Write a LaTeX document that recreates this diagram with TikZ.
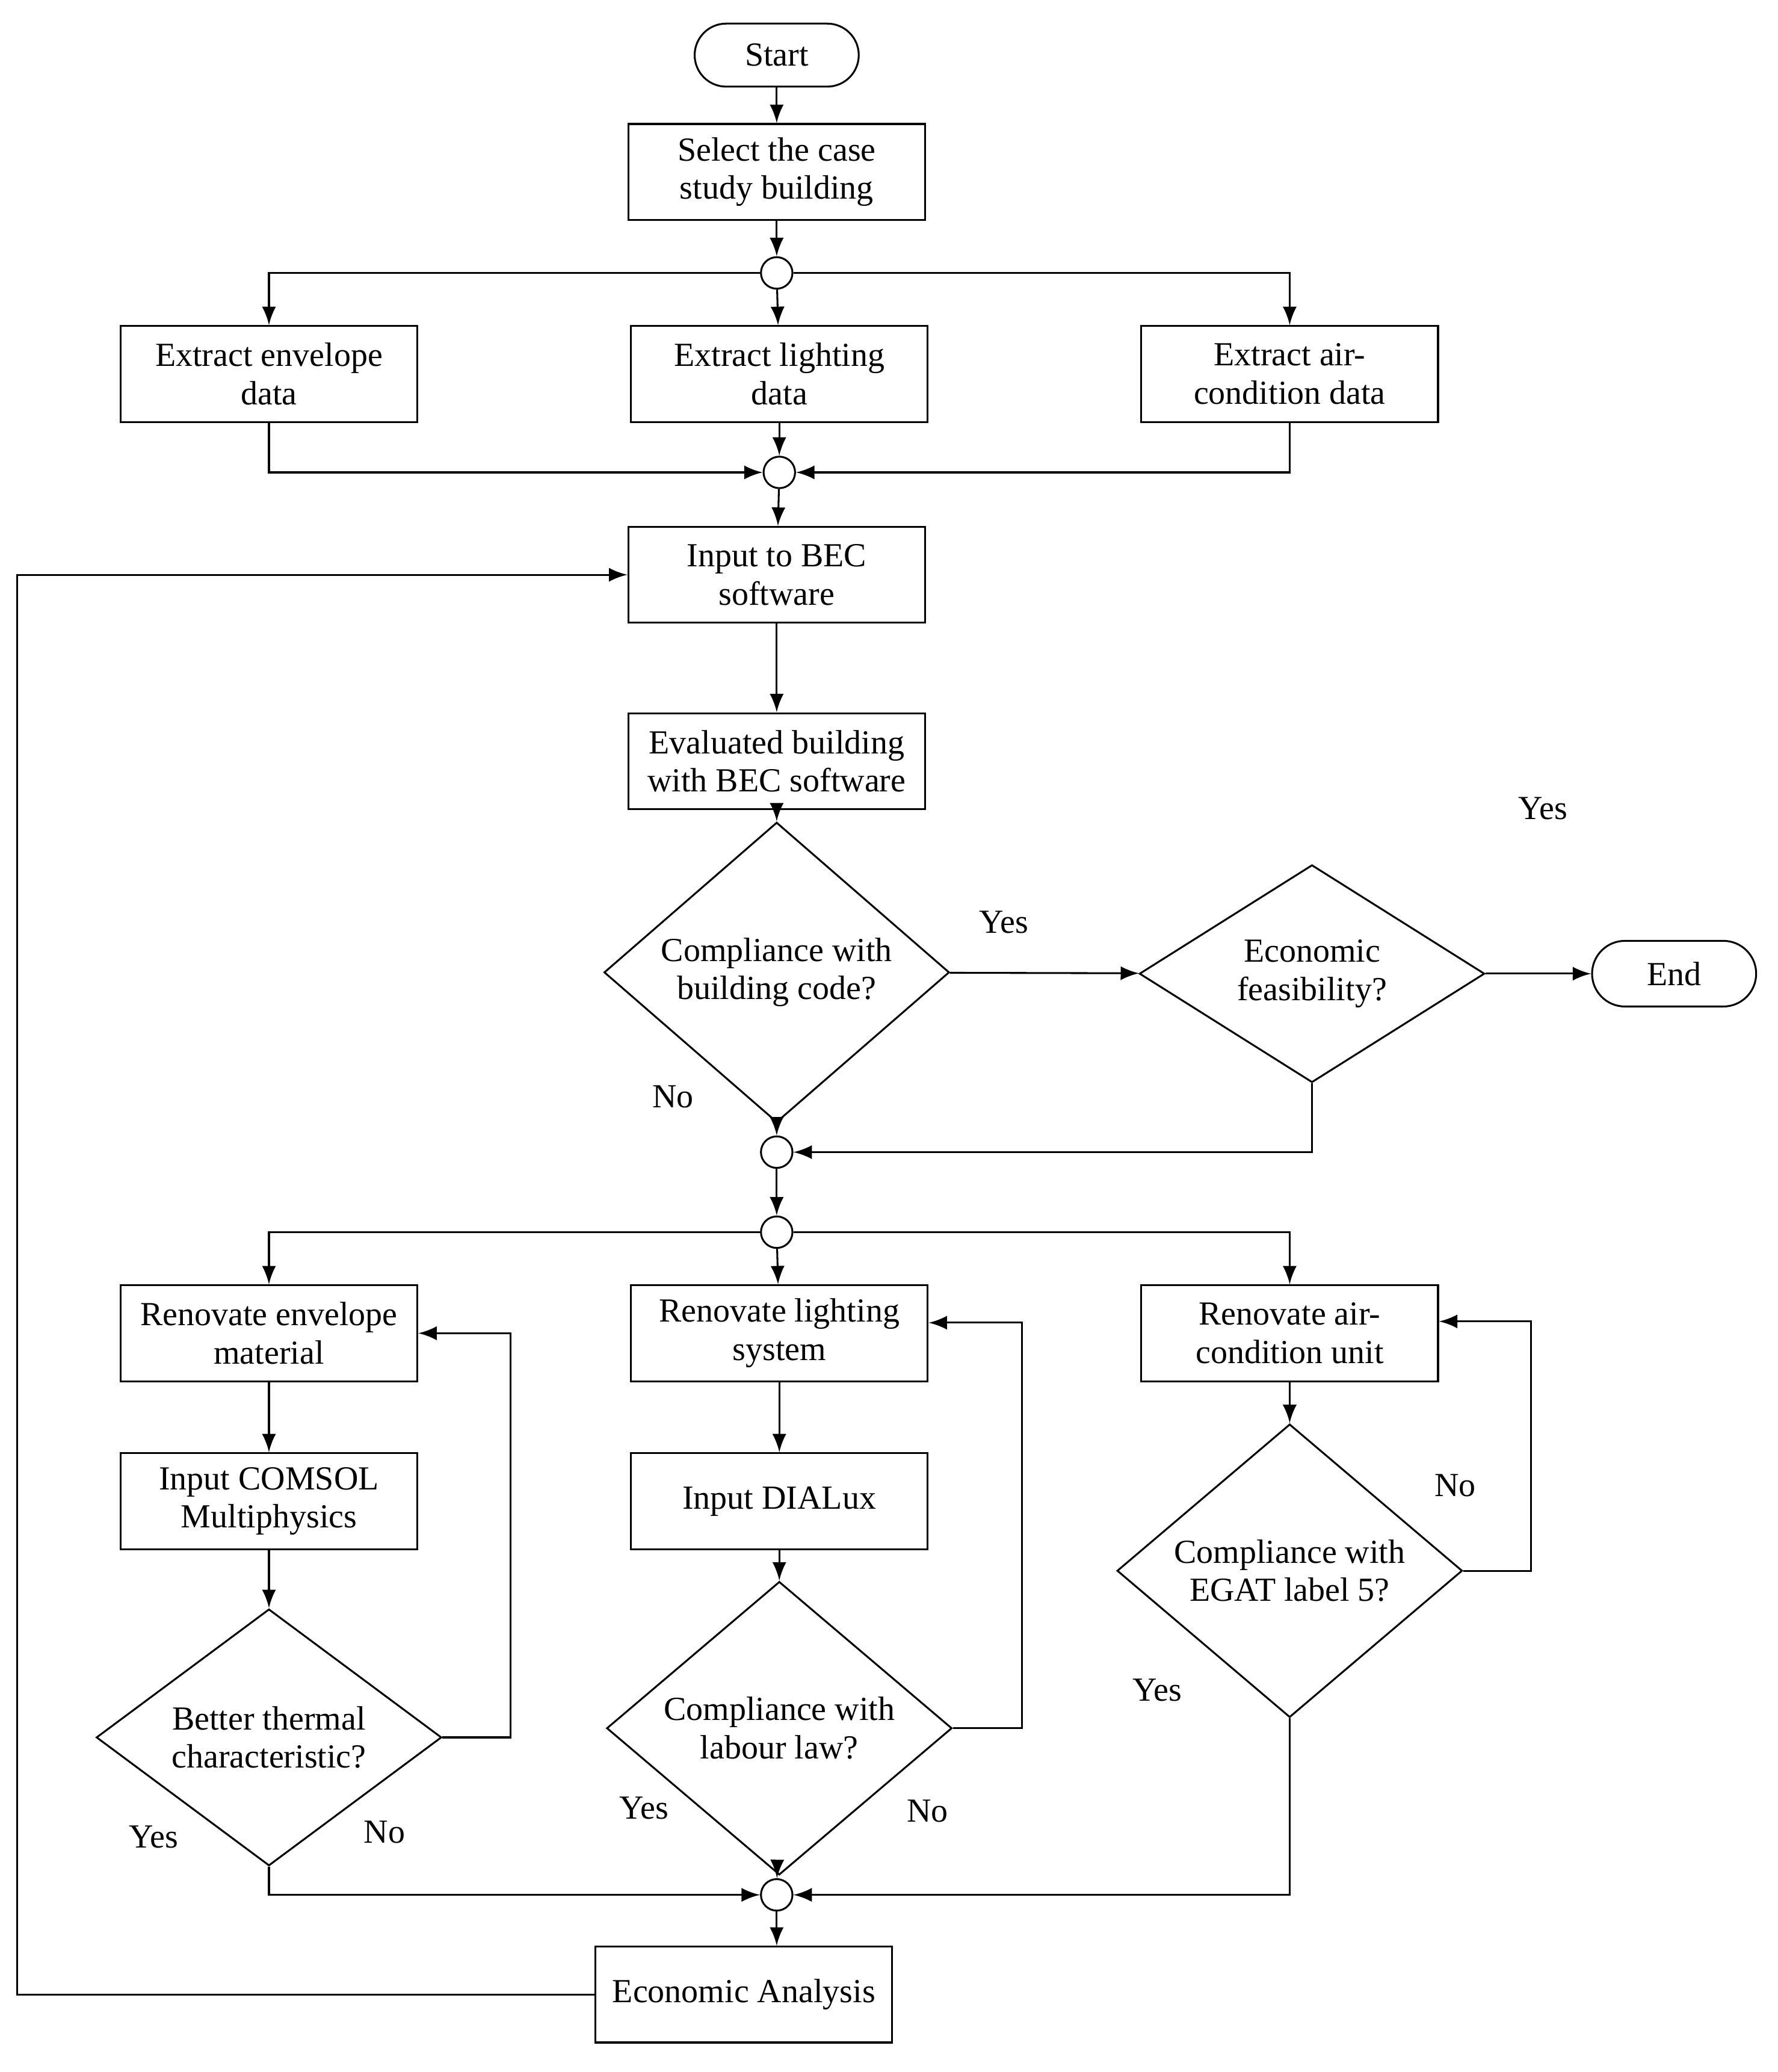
\documentclass[tikz,border=0pt]{standalone}
\usepackage{fontspec}
\setmainfont{Liberation Serif}
\usetikzlibrary{arrows,shapes.geometric}

\begin{document}
\begin{tikzpicture}[x=0.01cm, y=-0.01cm, >=latex, font=\fontsize{7.3}{8.3}\selectfont,
	box/.style={rectangle, draw, minimum width=2.26cm, minimum height=0.73cm, align=center, inner sep=1pt},
	dec/.style={diamond, draw, minimum width=2.63cm, minimum height=1.62cm, inner sep=0pt, align=center},
	junc/.style={circle, draw, minimum size=0.24cm, inner sep=0pt},
	lbl/.style={inner sep=0pt}]

		\useasboundingbox (0,0) rectangle (1355,1579);

		\node[rectangle, draw, rounded corners=0.24cm, minimum width=1.25cm, minimum height=0.48cm] (start) at (592,42) {Start};
		\node[box] (select) at (592,131) {Select the case\\study building};
		\node[junc] (j1) at (592,208) {};
		\node[box] (exenv) at (205,285) {Extract envelope\\data};
		\node[box] (exlight) at (594,285) {Extract lighting\\data};
		\node[box] (exair) at (983,285) {Extract air-\\condition data};
		\node[junc] (j2) at (594,360) {};
		\node[box] (bec) at (592,438) {Input to BEC\\software};
		\node[box] (eval) at (592,580) {Evaluated building\\with BEC software};
		\node[dec] (code) at (592,741) {Compliance with\\building code?};
		\node[dec] (econ) at (1000,742) {Economic\\feasibility?};
		\node[rectangle, draw, rounded corners=0.25cm, minimum width=1.25cm, minimum height=0.5cm] (end) at (1276,742) {End};
		\node[junc] (j3) at (592,878) {};
		\node[junc] (j4) at (592,939) {};
		\node[box] (renenv) at (205,1016) {Renovate envelope\\material};
		\node[box] (renlight) at (594,1016) {Renovate lighting\\system};
		\node[box] (renair) at (983,1016) {Renovate air-\\condition unit};
		\node[box] (comsol) at (205,1144) {Input COMSOL\\Multiphysics};
		\node[box] (dialux) at (594,1144) {Input DIALux};
		\node[dec] (thermal) at (205,1324) {Better thermal\\characteristic?};
		\node[dec] (labour) at (594,1317) {Compliance with\\labour law?};
		\node[dec] (egat) at (983,1197) {Compliance with\\EGAT label 5?};
		\node[junc] (j5) at (592,1444) {};
		\node[box] (ana) at (567,1520) {Economic Analysis};

		\coordinate (cl) at (389,1324);
		\coordinate (cm) at (779,1317);
		\coordinate (cr) at (1167,1197);
		\coordinate (cb) at (13,1520);

		\node[lbl] at (765,703) {Yes};
		\node[lbl] at (1176,616) {Yes};
		\node[lbl] at (513,836) {No};
		\node[lbl] at (117,1400) {Yes};
		\node[lbl] at (293,1396) {No};
		\node[lbl] at (491,1378) {Yes};
		\node[lbl] at (707,1380) {No};
		\node[lbl] at (1109,1132) {No};
		\node[lbl] at (882,1288) {Yes};

		\draw[->] (start) -- (select);
		\draw[->] (select) -- (j1);
		\draw[->] (j1) -| (exenv);
		\draw[->] (j1) -- (exlight);
		\draw[->] (j1) -| (exair);
		\draw[->] (exenv) |- (j2);
		\draw[->] (exlight) -- (j2);
		\draw[->] (exair) |- (j2);
		\draw[->] (j2) -- (bec);
		\draw[->] (bec) -- (eval);
		\draw[->] (eval) -- (code);
		\draw[->] (code) -- (econ);
		\draw[->] (econ) -- (end);
		\draw[->] (code) -- (j3);
		\draw[->] (econ.south) |- (j3);
		\draw[->] (j3) -- (j4);
		\draw[->] (j4) -| (renenv);
		\draw[->] (j4) -- (renlight);
		\draw[->] (j4) -| (renair);
		\draw[->] (renenv) -- (comsol);
		\draw[->] (comsol) -- (thermal);
		\draw[->] (renlight) -- (dialux);
		\draw[->] (dialux) -- (labour);
		\draw[->] (renair) -- (egat);
		\draw[->] (thermal.east) -- (cl) |- (renenv.east);
		\draw[->] (labour.east) -- (cm) |- ([yshift=0.08cm]renlight.east);
		\draw[->] (egat.east) -- (cr) |- ([yshift=0.09cm]renair.east);
		\draw[->] (thermal.south) |- (j5);
		\draw[->] (labour) -- (j5);
		\draw[->] (egat.south) |- (j5);
		\draw[->] (j5) -- (j5 |- ana.north);
		\draw[->] (ana.west) -- (cb) |- (bec.west);

\end{tikzpicture}
\end{document}
